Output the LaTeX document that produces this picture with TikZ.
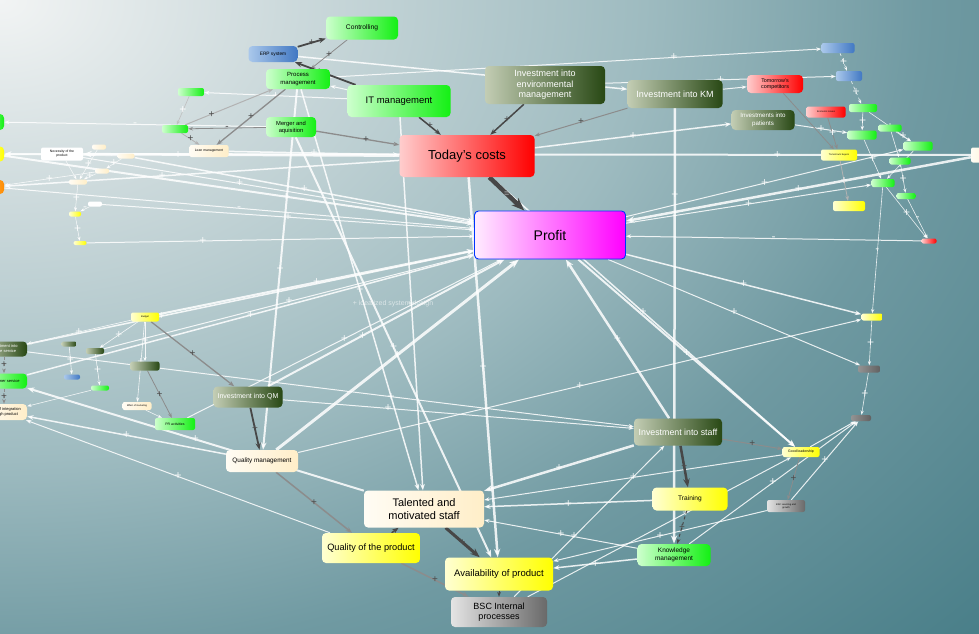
\documentclass[tikz,border=0pt]{standalone}
\usepackage{fontspec}
\setmainfont{Liberation Sans}
\usepackage{xcolor}
\usepackage{tikz}
\usetikzlibrary{arrows.meta}

\newcommand\fs[2]{\fontsize{#1}{#2}\selectfont}
\definecolor{bgA}{RGB}{242,244,244}
\definecolor{bgB}{RGB}{205,218,220}
\definecolor{bgC}{RGB}{158,187,192}
\definecolor{bgD}{RGB}{112,154,162}
\definecolor{bgE}{RGB}{74,127,137}
\definecolor{grL}{RGB}{205,255,205}
\definecolor{grR}{RGB}{20,240,20}
\definecolor{dgL}{RGB}{195,205,180}
\definecolor{dgR}{RGB}{40,72,20}
\definecolor{ylL}{RGB}{255,255,210}
\definecolor{ylR}{RGB}{255,255,0}
\definecolor{crL}{RGB}{255,252,244}
\definecolor{crR}{RGB}{255,238,200}
\definecolor{rdL}{RGB}{255,205,205}
\definecolor{rdR}{RGB}{255,0,0}
\definecolor{pkL}{RGB}{255,236,255}
\definecolor{pkR}{RGB}{255,0,255}
\definecolor{blL}{RGB}{170,200,235}
\definecolor{blR}{RGB}{65,120,195}
\definecolor{gyL}{RGB}{228,228,228}
\definecolor{gyR}{RGB}{105,105,105}
\definecolor{orR}{RGB}{255,140,0}
\pgfdeclarelayer{bg}
\pgfdeclarelayer{edges}
\pgfsetlayers{bg,edges,main}
\pgfdeclareradialshading{bgshade}{\pgfpoint{0bp}{0bp}}{color(0bp)=(bgA);color(5bp)=(bgB);color(11.5bp)=(bgC);color(16.5bp)=(bgD);color(23.5bp)=(bgE);color(50bp)=(bgE)}

\begin{document}
\begin{tikzpicture}[x=1pt,y=-1pt,
    box/.style={rectangle,rounded corners=4pt,inner sep=1pt,align=center},
    tn/.style={box,rounded corners=2pt,inner sep=0pt,font=\fs{2.4}{2.9}},
    sz/.style 2 args={minimum width=#1pt,minimum height=#2pt},
    gbox/.style={box,left color=grL,right color=grR},
    dbox/.style={box,left color=dgL,right color=dgR,text=white},
    ybox/.style={box,left color=ylL,right color=ylR},
    cbox/.style={box,left color=crL,right color=crR},
    rbox/.style={box,left color=rdL,right color=rdR},
    blbox/.style={box,left color=blL,right color=blR},
    gybox/.style={box,left color=gyL,right color=gyR},
    kbox/.style={box,left color=black!42,right color=black!62},
    wl/.style={draw=white,opacity=.85,line width=#1,-{Stealth[length=3pt 2.2]}},
    wl/.default=1pt,
    dl/.style={draw=black!72,line width=#1,-{Stealth[length=3pt 2.2]}},
    dl/.default=1.5pt,
    gl/.style={draw=black!45,line width=#1,-{Stealth[length=3pt 2.2]}},
    gl/.default=1pt,
    pw/.style={text=white,font=\fs{12}{12},inner sep=0pt},
    pd/.style={text=black!70,font=\fs{10}{10},inner sep=0pt}]
    \useasboundingbox (0,0) rectangle (979,633);
    \begin{pgfonlayer}{bg}
    \clip (0,0) rectangle (979,633);
    \shade[shading=bgshade] (0,0) ellipse (1400 and 1000);
    \end{pgfonlayer}
    % top
    \node[gbox,sz={72}{23},font=\fs{6.7}{8}] (ctrl) at (362,28) {Controlling};
    \node[blbox,sz={49}{16},font=\fs{4.8}{6}] (erp) at (273,54) {ERP system};
    \node[gbox,sz={64}{20},font=\fs{6}{7.2}] (proc) at (298,79) {Process\\management};
    \node[gbox,sz={103}{32},font=\fs{9.5}{11}] (itm) at (399,101) {IT management};
    \node[dbox,sz={120}{38},font=\fs{9}{10.5}] (envm) at (545,85) {Investment into\\environmental\\management};
    \node[dbox,sz={95}{28},font=\fs{9}{11}] (ikm) at (675,94) {Investment into KM};
    \node[rbox,sz={56}{18},font=\fs{5.4}{6.4}] (tcomp) at (775,84) {Tomorrow's\\competitors};
    \node[dbox,sz={63}{20},font=\fs{6.2}{7.4}] (ipat) at (763,120) {Investments into\\patients};
    \node[rbox,tn,sz={39}{11}] (econ) at (826,112) {Economic issues};
    \node[gbox,sz={50}{20},font=\fs{5.8}{7}] (mna) at (291,127) {Merger and\\aquisition};
    \node[cbox,tn,sz={39}{12},font=\fs{3.4}{4}] (lean) at (209,151) {Lean management};
    \node[box,fill=white,tn,sz={42}{13},font=\fs{3.4}{4}] (nec) at (62,154) {Necessity of the\\product};
    \node[rbox,sz={135}{42},font=\fs{13}{15}] (costs) at (467,156) {Today's costs};
    \node[box,left color=pkL,right color=pkR,draw=blue!80!cyan,line width=.9pt,sz={151}{48},font=\fs{14}{16}] (profit) at (550,235) {Profit};
    \node[gbox,tn,sz={26}{8}] (sg1) at (191,92) {};
    \node[gbox,tn,sz={26}{8}] (sg2) at (175,129) {};
    % right cluster
    \node[blbox,tn,sz={33}{10}] (bl1) at (838,48) {};
    \node[blbox,tn,sz={26}{10}] (bl2) at (849,76) {};
    \node[gbox,tn,sz={28}{8}] (g1) at (863,108) {};
    \node[gbox,tn,sz={23}{7}] (g2) at (890,128) {};
    \node[gbox,tn,sz={29}{9}] (g3) at (862,135) {};
    \node[gbox,tn,sz={29}{9}] (g4) at (918,146) {};
    \node[gbox,tn,sz={21}{7}] (g5) at (900,161) {};
    \node[gbox,tn,sz={23}{8}] (g6) at (883,183) {};
    \node[gbox,tn,sz={19}{6}] (g7) at (906,196) {};
    \node[ybox,tn,sz={36}{11}] (ybuy) at (839,155) {Tomorrow's buyers};
    \node[ybox,tn,sz={32}{10}] (ysm) at (849,206) {};
    \node[rbox,tn,sz={15}{5}] (rsm) at (929,241) {};
    \node[cbox,tn,sz={24}{15}] (rcream) at (983,155) {};
    % left edge
    \node[gbox,sz={24}{16}] (lgreen) at (-8,122) {};
    \node[ybox,sz={24}{15}] (lyel) at (-8,154) {};
    \node[box,left color=orR!60,right color=orR,sz={24}{14}] (lorange) at (-8,187) {};
    \node[cbox,tn,sz={14}{5}] (cr1) at (99,147) {};
    \node[cbox,tn,sz={17}{5}] (cr2) at (126,156) {};
    \node[cbox,tn,sz={14}{5}] (cr3) at (102,171) {};
    \node[cbox,tn,sz={18}{5}] (cr4) at (78,182) {};
    \node[box,fill=white,tn,sz={14}{5}] (wsm) at (95,204) {};
    \node[ybox,tn,sz={12}{5}] (ys1) at (75,214) {};
    \node[ybox,tn,sz={13}{4}] (ys2) at (80,243) {};
    % left middle
    \node[ybox,tn,sz={28}{9}] (budget) at (145,317) {Budget};
    \node[dbox,tn,sz={15}{5}] (dg1) at (69,344) {};
    \node[dbox,tn,sz={18}{6}] (dg2) at (95,351) {};
    \node[dbox,tn,sz={29}{9}] (dg3) at (145,366) {};
    \node[blbox,tn,sz={16}{5}] (bsm) at (72,377) {};
    \node[gbox,tn,sz={18}{5}] (gsm) at (100,388) {};
    \node[cbox,tn,sz={29}{8}] (effm) at (137,406) {Effect of marketing};
    \node[gbox,tn,sz={40}{12},font=\fs{3.5}{4}] (pr) at (175,424) {PR activities};
    \node[dbox,sz={46}{15},font=\fs{4}{5}] (linv) at (4,349) {Investment into\\online service};
    \node[gbox,sz={46}{15},font=\fs{4}{5}] (lcust) at (4,381) {Customer service};
    \node[cbox,sz={46}{16},font=\fs{4}{5}] (lcream) at (4,412) {Level of integration\\through product};
    % bottom
    \node[dbox,sz={69}{21},font=\fs{7}{8}] (iqm) at (248,397) {Investment into QM};
    \node[cbox,sz={72}{22},font=\fs{6.4}{7.5}] (qm) at (262,461) {Quality management};
    \node[cbox,sz={120}{37},font=\fs{11}{13}] (staff) at (424,509) {Talented and\\motivated staff};
    \node[ybox,sz={98}{30},font=\fs{9.2}{11}] (qprod) at (371,548) {Quality of the product};
    \node[ybox,sz={108}{33},font=\fs{9.5}{11}] (avail) at (499,574) {Availability of product};
    \node[gybox,sz={96}{30},font=\fs{9}{10.5}] (bscip) at (499,612) {BSC Internal\\processes};
    \node[dbox,sz={88}{27},font=\fs{8.8}{10}] (istaff) at (678,432) {Investment into staff};
    \node[ybox,sz={75}{23},font=\fs{6.6}{8}] (train) at (690,499) {Training};
    \node[gbox,sz={73}{22},font=\fs{6.5}{7.6}] (km) at (674,555) {Knowledge\\management};
    \node[ybox,tn,sz={37}{10},font=\fs{3.5}{4}] (lead) at (801,452) {Good leadership};
    \node[gybox,tn,sz={38}{12}] (bsclg) at (786,506) {BSC Learning and\\growth};
    \node[ybox,tn,sz={21}{7}] (ryel) at (872,317) {};
    \node[kbox,tn,sz={22}{7}] (gr1) at (869,369) {};
    \node[kbox,tn,sz={20}{6}] (gr2) at (861,418) {};
    \node[text=white,opacity=.6,font=\fs{7}{7}] (wm) at (393,304) {+ idealized system design};
    \begin{pgfonlayer}{edges}
    % white links
    \draw[wl=2.5pt] (costs) -- node[pw,pos=.7]{+} (nec);
    \draw[wl=2pt] (rcream) -- node[pw,pos=.2]{+} (lyel);
    \draw[wl=2pt] (lyel) -- node[pw,pos=.6]{+} (profit);
    \draw[wl=1pt] (nec) -- node[pw,pos=.4]{+} (profit);
    \draw[wl=1pt] (mna) -- node[pw]{-} (lgreen);
    \draw[wl=1.5pt] (costs) -- node[pw,pos=.6]{+} (lorange);
    \draw[wl=1.5pt] (lean) -- node[pw]{+} (costs);
    \draw[wl=1pt] (lorange) -- node[pw]{-} (profit);
    \draw[wl=2pt] (budget) -- node[pw]{+} (profit);
    \draw[wl=1pt] (dg2) -- node[pw]{+} (profit);
    \draw[wl=1.5pt] (cr2) -- node[pw]{+} (profit);
    \draw[wl=1pt] (ys2) -- node[pw,pos=.3]{+} (profit);
    \draw[wl=1pt] (wsm) -- node[pw]{+} (profit);
    \draw[wl=1.5pt] (linv) -- node[pw,pos=.3]{+} (profit);
    \draw[wl=1.5pt] (lcust) -- node[pw]{+} (profit);
    \draw[wl=2pt] (iqm) -- node[pw,pos=.4]{+} (profit);
    \draw[wl=1pt] (pr) -- node[pw]{+} (profit);
    \draw[wl=3pt] (qm) -- node[pw]{+} (profit);
    \draw[wl=1pt] (profit) -- node[pw]{+} (g6);
    \draw[wl=1pt] (profit) -- node[pw]{+} (g4);
    \draw[wl=1.5pt] (profit) -- node[pw]{+} (ryel);
    \draw[wl=1pt] (rsm) -- node[pw]{-} (profit);
    \draw[wl=2.5pt] (rcream) -- node[pw]{+} (profit);
    \draw[wl=1pt] (proc) -- node[pw,pos=.7]{+} (bl1);
    \draw[wl=1pt] (envm) -- node[pw]{+} (bl2);
    \draw[wl=1pt] (ikm) -- (tcomp);
    \draw[wl=1.5pt] (costs) -- node[pw]{+} (ipat);
    \draw[wl=1pt] (ipat) -- node[pw]{+} (g3);
    \draw[wl=1.5pt] (erp) -- node[pw,pos=.6]{+} (ikm);
    \draw[wl=1pt] (itm) -- node[pw]{+} (sg1);
    \draw[wl=1pt] (itm) -- (proc);
    \draw[wl=2pt] (proc) -- node[pw]{+} (qm);
    \draw[wl=1.5pt] (proc) -- node[pw]{+} (staff);
    \draw[wl=2pt] (mna) -- node[pw]{+} (avail);
    \draw[wl=1.5pt] (itm) -- node[pw]{+} (staff);
    \draw[wl=2.5pt] (costs) -- node[pw]{+} (avail);
    \draw[wl=2.5pt] (ikm) -- node[pw,pos=.2]{+} (km);
    \draw[wl=2.5pt] (istaff) -- node[pw]{+} (staff);
    \draw[wl=2.5pt] (istaff) -- node[pw]{+} (profit);
    \draw[wl=1.5pt] (train) -- node[pw]{+} (staff);
    \draw[wl=1pt] (km) -- node[pw]{+} (staff);
    \draw[wl=1pt] (lead) -- node[pw]{+} (staff);
    \draw[wl=1pt] (bsclg) -- node[pw]{+} (avail);
    \draw[wl=1.5pt] (km) -- node[pw]{+} (avail);
    \draw[wl=1pt] (bscip) -- node[pw,pos=.6]{+} (lead);
    \draw[wl=1pt] (km) -- node[pw]{+} (gr2);
    \draw[wl=1pt] (bsclg) -- node[pw]{+} (gr2);
    \draw[wl=1pt] (lead) -- (gr2);
    \draw[wl=2pt] (profit) -- node[pw]{+} (lead);
    \draw[wl=1.5pt] (costs) -- node[pw]{+} (lead);
    \draw[wl=1pt] (profit) -- node[pw]{+} (gr1);
    \draw[wl=1pt] (qm) -- node[pw]{+} (ryel);
    \draw[wl=1pt] (linv) -- node[pw,pos=.6]{+} (istaff);
    \draw[wl=1pt] (iqm) -- node[pw,pos=.3]{+} (istaff);
    \draw[wl=1pt] (qprod) -- node[pw]{+} (lcream);
    \draw[wl=2pt] (staff) -- node[pw]{+} (lcust);
    \draw[wl=1.5pt] (qm) -- node[pw]{+} (lcream);
    \draw[wl=1pt] (bscip) -- node[pw,pos=.4]{+} (istaff);
    % small clusters
    \draw[wl=.6pt,dashed] (bl1) -- node[pw]{+} (bl2);
    \draw[wl=.6pt,dashed] (bl2) -- node[pw]{+} (g1);
    \draw[wl=.6pt] (g1) -- node[pw]{+} (g3);
    \draw[wl=.6pt] (g1) -- node[pw]{+} (g4);
    \draw[wl=.6pt] (g2) -- node[pw]{+} (g4);
    \draw[wl=.6pt] (g3) -- node[pw]{+} (g6);
    \draw[wl=.6pt] (g4) -- node[pw]{+} (g6);
    \draw[wl=.6pt] (g2) -- (g5);
    \draw[wl=.6pt] (g5) -- node[pw]{+} (g7);
    \draw[wl=.6pt] (g6) -- node[pw]{+} (rsm);
    \draw[wl=.6pt] (g7) -- node[pw]{-} (rsm);
    \draw[wl=.6pt] (g6) -- node[pw]{-} (ryel);
    \draw[wl=.6pt] (ryel) -- node[pw]{+} (gr1);
    \draw[wl=.6pt] (gr1) -- node[pw]{+} (gr2);
    \draw[wl=.5pt] (cr1) -- node[pw]{+} (cr4);
    \draw[wl=.5pt] (cr2) -- node[pw]{+} (cr3);
    \draw[wl=.5pt] (cr3) -- node[pw]{+} (cr4);
    \draw[wl=.5pt] (cr4) -- node[pw]{+} (ys1);
    \draw[wl=.5pt] (wsm) -- node[pw]{-} (ys1);
    \draw[wl=.5pt] (ys1) -- node[pw]{+} (ys2);
    \draw[wl=.5pt] (nec) -- (cr4);
    \draw[wl=.6pt] (cr3) -- node[pw]{+} (lorange);
    \draw[wl=.6pt] (cr2) -- (lyel);
    \draw[wl=.6pt] (dg1) -- node[pw]{+} (bsm);
    \draw[wl=.6pt] (dg2) -- node[pw]{+} (gsm);
    \draw[wl=.6pt] (budget) -- node[pw]{+} (dg3);
    \draw[wl=.6pt] (budget) -- node[pw]{+} (effm);
    \draw[wl=.6pt] (budget) -- node[pw]{+} (linv);
    \draw[wl=.6pt] (budget) -- node[pw]{+} (dg2);
    \draw[wl=.6pt] (gsm) -- (lcream);
    \draw[wl=.6pt] (effm) -- (pr);
    % dark links
    \draw[dl=1.8pt] (erp) -- node[pd]{+} (ctrl);
    \draw[gl=.8pt] (ctrl) -- node[pd]{+} (proc);
    \draw[dl=1.8pt] (itm) -- node[pd,pos=.6]{+} (erp);
    \draw[gl=1.3pt] (proc) -- node[pd]{+} (lean);
    \draw[gl=1pt,draw=black!30] (sg2) -- node[pd,pos=.3]{+} (proc);
    \draw[gl=.8pt] (mna) -- node[pd]{-} (sg2);
    \draw[gl=.8pt,draw=black!30] (sg2) -- node[pd]{+} (lean);
    \draw[gl=.6pt,draw=black!25] (sg1) -- node[pw]{+} (sg2);
    \draw[gl=1.3pt] (mna) -- node[pd,pos=.6]{+} (costs);
    \draw[dl=1.5pt] (itm) -- node[pd]{+} (costs);
    \draw[dl=1.5pt] (envm) -- node[pd]{+} (costs);
    \draw[gl=1pt] (ikm) -- node[pd]{+} (costs);
    \draw[dl=4.5pt] (costs) -- node[text=black!20,font=\fs{9}{9},inner sep=0pt]{=} (profit);
    \draw[gl=.8pt] (tcomp) -- (ybuy);
    \draw[gl=.8pt] (econ) -- node[pw]{+} (ybuy);
    \draw[gl=.8pt,draw=black!30] (ybuy) -- node[pw]{+} (ysm);
    \draw[gl=1.3pt] (budget) -- node[pd]{+} (iqm);
    \draw[gl=.8pt] (dg3) -- node[pd]{+} (pr);
    \draw[dl=1.8pt] (iqm) -- node[pd]{+} (qm);
    \draw[dl=2.5pt] (istaff) -- node[pd]{+} (train);
    \draw[gl=1pt] (istaff) -- node[pd]{+} (lead);
    \draw[dl=1pt,dashed] (train) -- node[pd]{+} (km);
    \draw[gl=.8pt] (lead) -- node[pd]{+} (bsclg);
    \draw[dl=3pt] (staff) -- node[pd]{+} (avail);
    \draw[gl=1.5pt] (qm) -- node[pd]{+} (qprod);
    \draw[gl=1.5pt] (qprod) -- node[pd]{+} (bscip);
    \draw[dl=.8pt] (avail) -- node[pd,font=\fs{6}{6}]{+} (bscip);
    \draw[dl=1.5pt] (qprod) -- (staff);
    \draw[gl=.8pt,dashed] (linv) -- node[pd]{+} (lcust);
    \draw[gl=.8pt,dashed] (lcust) -- node[pd]{+} (lcream);
    \end{pgfonlayer}
\end{tikzpicture}
\end{document}
